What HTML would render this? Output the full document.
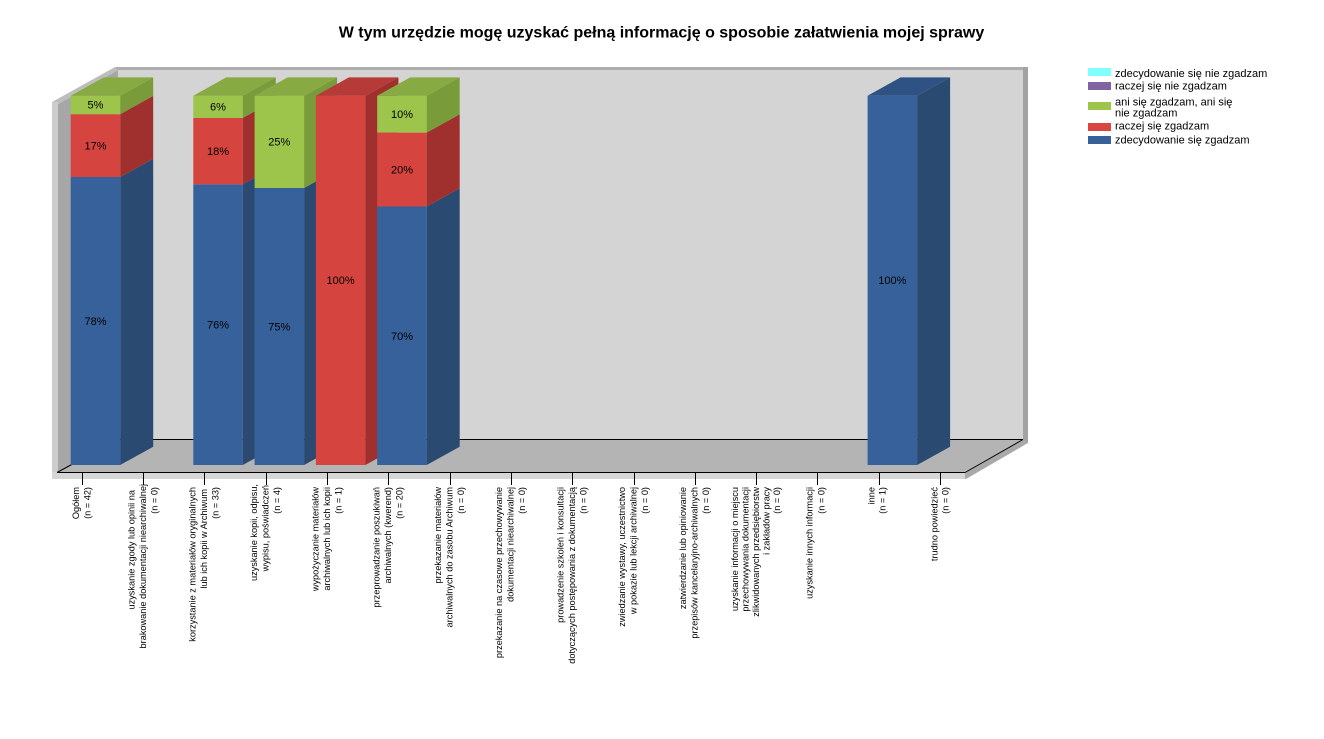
<!DOCTYPE html>
<html><head><meta charset="utf-8"><style>
html,body{margin:0;padding:0;background:#fff;}
svg{display:block;}
text{font-family:"Liberation Sans",Arial,sans-serif;}
.lb{font-size:9.2px;fill:#000;}
.pc{font-size:11px;fill:#000;text-anchor:middle;}
.lg{font-size:11px;fill:#000;}
</style></head><body>
<svg width="1324" height="739" viewBox="0 0 1324 739" xmlns="http://www.w3.org/2000/svg">
<rect width="1324" height="739" fill="#fff"/>
<text x="661.5" y="37.5" text-anchor="middle" style="font-size:16px;font-weight:bold;">W tym urzędzie mogę uzyskać pełną informację o sposobie załatwienia mojej sprawy</text>

<!-- walls -->
<rect x="118" y="70" width="905" height="369" fill="#d4d4d4"/>
<rect x="115" y="67" width="913" height="3" fill="#adadad"/>
<rect x="1023" y="67" width="5" height="376" fill="#a2a2a2"/>
<polygon points="58,104 118,70 118,439 58,472" fill="#a7a7a7"/>
<polygon points="52,102 115,67 118,70 58,104" fill="#bdbdbd"/>
<rect x="52" y="102" width="6" height="377" fill="#cdcdcd"/>
<!-- floor -->
<polygon points="57,472 118,439 1023,439 965,472" fill="#b4b4b4"/>
<rect x="52" y="472" width="913" height="7" fill="#d6d6d6"/>
<polygon points="965,472 1023,439 1028,443 1028,443 966,479 965,479" fill="#a9a9a9"/>
<g stroke="#000" stroke-width="1" fill="none">
<line x1="118" y1="439.5" x2="1023" y2="439.5"/>
<line x1="57" y1="472.5" x2="965" y2="472.5"/>
<line x1="57" y1="472.5" x2="118" y2="439.5"/>
<line x1="965" y1="472.5" x2="1023" y2="439.5"/>
</g>
<!-- ticks -->
<g stroke="#000" stroke-width="1">
<line x1="82.5" y1="472" x2="82.5" y2="485"/>
<line x1="143.5" y1="472" x2="143.5" y2="485"/>
<line x1="204.5" y1="472" x2="204.5" y2="485"/>
<line x1="266.5" y1="472" x2="266.5" y2="485"/>
<line x1="327.5" y1="472" x2="327.5" y2="485"/>
<line x1="388.5" y1="472" x2="388.5" y2="485"/>
<line x1="450.5" y1="472" x2="450.5" y2="485"/>
<line x1="511.5" y1="472" x2="511.5" y2="485"/>
<line x1="572.5" y1="472" x2="572.5" y2="485"/>
<line x1="634.5" y1="472" x2="634.5" y2="485"/>
<line x1="695.5" y1="472" x2="695.5" y2="485"/>
<line x1="756.5" y1="472" x2="756.5" y2="485"/>
<line x1="817.5" y1="472" x2="817.5" y2="485"/>
<line x1="879.5" y1="472" x2="879.5" y2="485"/>
<line x1="940.5" y1="472" x2="940.5" y2="485"/>
</g>

<!-- Bar 0 Ogółem -->
<rect x="70.7" y="177" width="49.5" height="288" fill="#37619a"/>
<polygon points="120.2,465 153.2,446.7 153.2,158.7 120.2,177" fill="#2b4a72"/>
<rect x="70.7" y="114.2" width="49.5" height="62.8" fill="#d5443f"/>
<polygon points="120.2,177 153.2,158.7 153.2,95.9 120.2,114.2" fill="#9f302e"/>
<rect x="70.7" y="95.7" width="49.5" height="18.5" fill="#9dc44b"/>
<polygon points="120.2,114.2 153.2,95.9 153.2,77.4 120.2,95.7" fill="#799b3a"/>
<polygon points="70.7,95.7 103.7,77.4 153.2,77.4 120.2,95.7" fill="#88aa42"/>
<text class="pc" x="95.5" y="325">78%</text>
<text class="pc" x="95.5" y="149.5">17%</text>
<text class="pc" x="95.5" y="108.5">5%</text>

<!-- Bar 2 korzystanie -->
<rect x="193.3" y="184.3" width="49.5" height="280.7" fill="#37619a"/>
<polygon points="242.8,465 275.8,446.7 275.8,166 242.8,184.3" fill="#2b4a72"/>
<rect x="193.3" y="117.9" width="49.5" height="66.4" fill="#d5443f"/>
<polygon points="242.8,184.3 275.8,166 275.8,99.6 242.8,117.9" fill="#9f302e"/>
<rect x="193.3" y="95.7" width="49.5" height="22.2" fill="#9dc44b"/>
<polygon points="242.8,117.9 275.8,99.6 275.8,77.4 242.8,95.7" fill="#799b3a"/>
<polygon points="193.3,95.7 226.3,77.4 275.8,77.4 242.8,95.7" fill="#88aa42"/>
<text class="pc" x="218" y="328.5">76%</text>
<text class="pc" x="218" y="155">18%</text>
<text class="pc" x="218" y="110.5">6%</text>

<!-- Bar 3 kopii -->
<rect x="254.6" y="188" width="49.5" height="277" fill="#37619a"/>
<polygon points="304.1,465 337.1,446.7 337.1,169.7 304.1,188" fill="#2b4a72"/>
<rect x="254.6" y="95.7" width="49.5" height="92.3" fill="#9dc44b"/>
<polygon points="304.1,188 337.1,169.7 337.1,77.4 304.1,95.7" fill="#799b3a"/>
<polygon points="254.6,95.7 287.6,77.4 337.1,77.4 304.1,95.7" fill="#88aa42"/>
<text class="pc" x="279.3" y="330.5">75%</text>
<text class="pc" x="279.3" y="145.5">25%</text>

<!-- Bar 4 wypożyczanie -->
<rect x="315.9" y="95.7" width="49.5" height="369.3" fill="#d5443f"/>
<polygon points="365.4,465 398.4,446.7 398.4,77.4 365.4,95.7" fill="#9f302e"/>
<polygon points="315.9,95.7 348.9,77.4 398.4,77.4 365.4,95.7" fill="#b63a37"/>
<text class="pc" x="340.6" y="284">100%</text>

<!-- Bar 5 przeprowadzanie -->
<rect x="377.2" y="206.5" width="49.5" height="258.5" fill="#37619a"/>
<polygon points="426.7,465 459.7,446.7 459.7,188.2 426.7,206.5" fill="#2b4a72"/>
<rect x="377.2" y="132.6" width="49.5" height="73.9" fill="#d5443f"/>
<polygon points="426.7,206.5 459.7,188.2 459.7,114.3 426.7,132.6" fill="#9f302e"/>
<rect x="377.2" y="95.7" width="49.5" height="36.9" fill="#9dc44b"/>
<polygon points="426.7,132.6 459.7,114.3 459.7,77.4 426.7,95.7" fill="#799b3a"/>
<polygon points="377.2,95.7 410.2,77.4 459.7,77.4 426.7,95.7" fill="#88aa42"/>
<text class="pc" x="402" y="340">70%</text>
<text class="pc" x="402" y="173.5">20%</text>
<text class="pc" x="402" y="118">10%</text>

<!-- Bar 13 inne -->
<rect x="867.6" y="95.7" width="49.5" height="369.3" fill="#37619a"/>
<polygon points="917.1,465 950.1,446.7 950.1,77.4 917.1,95.7" fill="#2b4a72"/>
<polygon points="867.6,95.7 900.6,77.4 950.1,77.4 917.1,95.7" fill="#2e5283"/>
<text class="pc" x="892.3" y="284">100%</text>

<!-- X labels -->
<g class="lb" text-anchor="end">
<text transform="translate(78.85,487) rotate(-90)">Ogółem</text>
<text transform="translate(90.35,487) rotate(-90)">(n = 42)</text>

<text transform="translate(134.4,490) rotate(-90)">uzyskanie zgody lub opinii na</text>
<text transform="translate(145.9,484) rotate(-90)">brakowanie dokumentacji niearchiwalnej</text>
<text transform="translate(157.4,487) rotate(-90)">(n = 0)</text>

<text transform="translate(195.7,487) rotate(-90)">korzystanie z materiałów oryginalnych</text>
<text transform="translate(207.2,489) rotate(-90)">lub ich kopii w Archiwum</text>
<text transform="translate(218.7,487) rotate(-90)">(n = 33)</text>

<text transform="translate(257,484) rotate(-90)">uzyskanie kopii, odpisu,</text>
<text transform="translate(268.5,485) rotate(-90)">wypisu, poświadczeń</text>
<text transform="translate(280,487) rotate(-90)">(n = 4)</text>

<text transform="translate(318.3,487) rotate(-90)">wypożyczanie materiałów</text>
<text transform="translate(329.8,487) rotate(-90)">archiwalnych lub ich kopii</text>
<text transform="translate(341.3,487) rotate(-90)">(n = 1)</text>

<text transform="translate(379.6,487) rotate(-90)">przeprowadzanie poszukiwań</text>
<text transform="translate(391.1,487) rotate(-90)">archiwalnych (kwerend)</text>
<text transform="translate(402.6,487) rotate(-90)">(n = 20)</text>

<text transform="translate(440.9,487) rotate(-90)">przekazanie materiałów</text>
<text transform="translate(452.4,487) rotate(-90)">archiwalnych do zasobu Archiwum</text>
<text transform="translate(463.9,487) rotate(-90)">(n = 0)</text>

<text transform="translate(502.2,487) rotate(-90)">przekazanie na czasowe przechowywanie</text>
<text transform="translate(513.7,487) rotate(-90)">dokumentacji niearchiwalnej</text>
<text transform="translate(525.2,487) rotate(-90)">(n = 0)</text>

<text transform="translate(563.5,487) rotate(-90)">prowadzenie szkoleń i konsultacji</text>
<text transform="translate(575,487) rotate(-90)">dotyczących postępowania z dokumentacją</text>
<text transform="translate(586.5,487) rotate(-90)">(n = 0)</text>

<text transform="translate(624.8,487) rotate(-90)">zwiedzanie wystawy, uczestnictwo</text>
<text transform="translate(636.3,487) rotate(-90)">w pokazie lub lekcji archiwalnej</text>
<text transform="translate(647.8,487) rotate(-90)">(n = 0)</text>

<text transform="translate(686.1,487) rotate(-90)">zatwierdzanie lub opiniowanie</text>
<text transform="translate(697.6,487) rotate(-90)">przepisów kancelaryjno-archiwalnych</text>
<text transform="translate(709.1,487) rotate(-90)">(n = 0)</text>

<text transform="translate(737.9,487) rotate(-90)">uzyskanie informacji o miejscu</text>
<text transform="translate(748.4,487) rotate(-90)">przechowywania dokumentacji</text>
<text transform="translate(758.9,487) rotate(-90)">zlikwidowanych przedsiębiorstw</text>
<text transform="translate(769.4,487) rotate(-90)">i zakładów pracy</text>
<text transform="translate(779.9,487) rotate(-90)">(n = 0)</text>

<text transform="translate(812.5,487) rotate(-90)">uzyskanie innych informacji</text>
<text transform="translate(824.5,487) rotate(-90)">(n = 0)</text>

<text transform="translate(874.5,487) rotate(-90)">inne</text>
<text transform="translate(885.5,487) rotate(-90)">(n = 1)</text>

<text transform="translate(937.5,487) rotate(-90)">trudno powiedzieć</text>
<text transform="translate(948.5,487) rotate(-90)">(n = 0)</text>
</g>

<!-- Legend -->
<rect x="1088" y="68" width="23" height="8" fill="#80ffff"/>
<rect x="1088" y="82" width="23" height="8" fill="#8064a2"/>
<rect x="1088" y="102" width="23" height="8" fill="#9dc44b"/>
<rect x="1088" y="123" width="23" height="8" fill="#d8463f"/>
<rect x="1088" y="136" width="23" height="8" fill="#38619a"/>
<text class="lg" x="1115" y="77">zdecydowanie się nie zgadzam</text>
<text class="lg" x="1115" y="89.5">raczej się nie zgadzam</text>
<text class="lg" x="1115" y="105.5">ani się zgadzam, ani się</text>
<text class="lg" x="1115" y="116.5">nie zgadzam</text>
<text class="lg" x="1115" y="129.5">raczej się zgadzam</text>
<text class="lg" x="1115" y="143.5">zdecydowanie się zgadzam</text>
</svg>
</body></html>
